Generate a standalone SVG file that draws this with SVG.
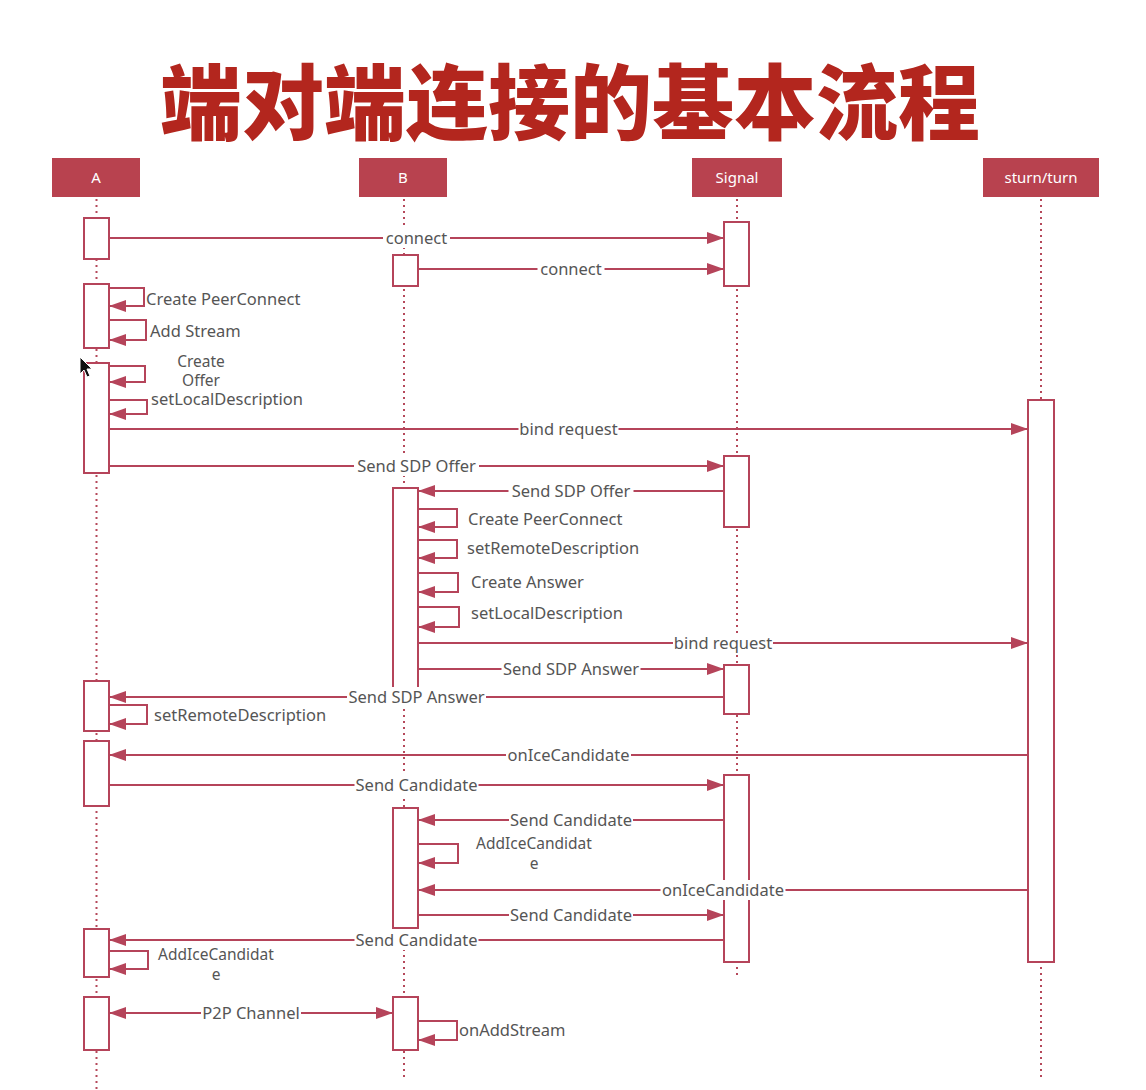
<svg xmlns="http://www.w3.org/2000/svg" width="1146" height="1090" viewBox="0 0 1146 1090">
  <style>
    .title { font-family: "Noto Sans CJK SC", "Noto Sans", sans-serif; font-weight: 900; font-size: 82px; fill: #b3261e; text-anchor: middle; }
    .head { fill: #b8424f; }
    .htxt { font-family: "Noto Sans", "Liberation Sans", sans-serif; font-size: 15px; fill: #ffffff; text-anchor: middle; }
    .life { stroke: #b5485a; stroke-width: 2; stroke-dasharray: 2 4; fill: none; }
    .act { fill: #ffffff; stroke: #b5445a; stroke-width: 2; }
    .msg { stroke: #b5445a; stroke-width: 2; fill: none; marker-end: url(#ah); }
    .both { marker-start: url(#ah); }
    .lbl { font-family: "Noto Sans", "Liberation Sans", sans-serif; font-size: 16.5px; fill: #555555; }
    .wrap { font-size: 15.5px; }
    .mid { text-anchor: middle; }
    .bg { fill: #ffffff; }
  </style>
  <defs>
    <marker id="ah" markerUnits="userSpaceOnUse" markerWidth="17" markerHeight="12" refX="17" refY="6" orient="auto-start-reverse">
      <path d="M0,0 L17,6 L0,12 z" fill="#b5445a"/>
    </marker>
  </defs>

  <rect width="1146" height="1090" fill="#ffffff"/>

  <text class="title" x="570" y="133">端对端连接的基本流程</text>

  <!-- participants: header, lifeline, activation bars -->
  <g id="node-A">
    <rect class="head" x="52" y="158" width="88" height="39"/>
    <text class="htxt" x="96" y="183">A</text>
    <line class="life" x1="96.5" y1="199" x2="96.5" y2="1090"/>
    <rect class="act" x="84" y="218" width="25" height="41"/>
    <rect class="act" x="84" y="284" width="25" height="64"/>
    <rect class="act" x="84" y="363" width="25" height="110"/>
    <rect class="act" x="84" y="681" width="25" height="50"/>
    <rect class="act" x="84" y="741" width="25" height="65"/>
    <rect class="act" x="84" y="929" width="25" height="48"/>
    <rect class="act" x="84" y="997" width="25" height="53"/>
  </g>

  <g id="node-B">
    <rect class="head" x="359" y="158" width="88" height="39"/>
    <text class="htxt" x="403" y="183">B</text>
    <line class="life" x1="404" y1="199" x2="404" y2="1080"/>
    <rect class="act" x="393" y="255" width="25" height="31"/>
    <rect class="act" x="393" y="488" width="25" height="200"/>
    <rect class="act" x="393" y="808" width="25" height="120"/>
    <rect class="act" x="393" y="997" width="25" height="53"/>
  </g>

  <g id="node-Signal">
    <rect class="head" x="692" y="158" width="90" height="39"/>
    <text class="htxt" x="737" y="183">Signal</text>
    <line class="life" x1="737" y1="199" x2="737" y2="975"/>
    <rect class="act" x="724" y="222" width="25" height="64"/>
    <rect class="act" x="724" y="456" width="25" height="71"/>
    <rect class="act" x="724" y="665" width="25" height="49"/>
    <rect class="act" x="724" y="775" width="25" height="187"/>
  </g>

  <g id="node-sturn">
    <rect class="head" x="983" y="158" width="116" height="39"/>
    <text class="htxt" x="1041" y="183">sturn/turn</text>
    <line class="life" x1="1041" y1="199" x2="1041" y2="1080"/>
    <rect class="act" x="1028" y="400" width="26" height="562"/>
  </g>

  <!-- messages and self calls -->
  <g id="connectors">
    <path class="msg" d="M109,238 H724"/>
    <rect class="bg" x="383" y="228" width="67" height="20"/>
    <text class="lbl mid" x="416.5" y="243.5">connect</text>

    <path class="msg" d="M418,269 H724"/>
    <rect class="bg" x="537.5" y="259" width="67" height="20"/>
    <text class="lbl mid" x="571" y="274.5">connect</text>

    <path class="msg" d="M109,288 H144 V306 H109"/>
    <text class="lbl" x="146" y="305">Create PeerConnect</text>

    <path class="msg" d="M109,320 H146 V340 H109"/>
    <text class="lbl" x="150" y="337">Add Stream</text>

    <path class="msg" d="M109,366 H145 V382 H109"/>
    <text class="lbl wrap mid" x="201" y="367">Create<tspan x="201" dy="19">Offer</tspan></text>

    <path class="msg" d="M109,400 H147 V414 H109"/>
    <text class="lbl" x="151" y="405">setLocalDescription</text>

    <path class="msg" d="M109,429 H1028"/>
    <rect class="bg" x="518.5" y="419" width="100" height="20"/>
    <text class="lbl mid" x="568.5" y="434.5">bind request</text>

    <path class="msg" d="M109,466 H724"/>
    <rect class="bg" x="354" y="456" width="125" height="20"/>
    <text class="lbl mid" x="416.5" y="471.5">Send SDP Offer</text>

    <path class="msg" d="M724,491 H418"/>
    <rect class="bg" x="508.5" y="481" width="125" height="20"/>
    <text class="lbl mid" x="571" y="496.5">Send SDP Offer</text>

    <path class="msg" d="M418,509 H457 V527 H418"/>
    <text class="lbl" x="468" y="525">Create PeerConnect</text>

    <path class="msg" d="M418,540 H457 V558 H418"/>
    <text class="lbl" x="467" y="554">setRemoteDescription</text>

    <path class="msg" d="M418,573 H458 V592 H418"/>
    <text class="lbl" x="471" y="588">Create Answer</text>

    <path class="msg" d="M418,607 H459 V627 H418"/>
    <text class="lbl" x="471" y="619">setLocalDescription</text>

    <path class="msg" d="M418,643 H1028"/>
    <rect class="bg" x="673" y="633" width="100" height="20"/>
    <text class="lbl mid" x="723" y="648.5">bind request</text>

    <path class="msg" d="M418,669 H724"/>
    <rect class="bg" x="501.5" y="659" width="139" height="20"/>
    <text class="lbl mid" x="571" y="674.5">Send SDP Answer</text>

    <path class="msg" d="M724,697 H109"/>
    <rect class="bg" x="347" y="687" width="139" height="20"/>
    <text class="lbl mid" x="416.5" y="702.5">Send SDP Answer</text>

    <path class="msg" d="M109,705 H147 V724 H109"/>
    <text class="lbl" x="154" y="721">setRemoteDescription</text>

    <path class="msg" d="M1028,755 H109"/>
    <rect class="bg" x="506" y="745" width="125" height="20"/>
    <text class="lbl mid" x="568.5" y="760.5">onIceCandidate</text>

    <path class="msg" d="M109,785 H724"/>
    <rect class="bg" x="354.5" y="775" width="124" height="20"/>
    <text class="lbl mid" x="416.5" y="790.5">Send Candidate</text>

    <path class="msg" d="M724,820 H418"/>
    <rect class="bg" x="509" y="810" width="124" height="20"/>
    <text class="lbl mid" x="571" y="825.5">Send Candidate</text>

    <path class="msg" d="M418,844 H458 V863 H418"/>
    <text class="lbl wrap mid" x="534" y="849">AddIceCandidat<tspan x="534" dy="20">e</tspan></text>

    <path class="msg" d="M1028,890 H418"/>
    <rect class="bg" x="660.5" y="880" width="125" height="20"/>
    <text class="lbl mid" x="723" y="895.5">onIceCandidate</text>

    <path class="msg" d="M418,915 H724"/>
    <rect class="bg" x="509" y="905" width="124" height="20"/>
    <text class="lbl mid" x="571" y="920.5">Send Candidate</text>

    <path class="msg" d="M724,940 H109"/>
    <rect class="bg" x="354.5" y="930" width="124" height="20"/>
    <text class="lbl mid" x="416.5" y="945.5">Send Candidate</text>

    <path class="msg" d="M109,951 H148 V969 H109"/>
    <text class="lbl wrap mid" x="216" y="960">AddIceCandidat<tspan x="216" dy="20">e</tspan></text>

    <path class="msg both" d="M109,1013 H393"/>
    <rect class="bg" x="201" y="1003" width="100" height="20"/>
    <text class="lbl mid" x="251" y="1018.5">P2P Channel</text>

    <path class="msg" d="M418,1021 H457 V1040 H418"/>
    <text class="lbl" x="459" y="1036">onAddStream</text>
  </g>

  <!-- mouse pointer -->
  <path d="M80,357 L80,374 L84,370 L87,377 L90,376 L87,369 L92,369 Z" fill="#111111" stroke="#ffffff" stroke-width="1"/>
</svg>
